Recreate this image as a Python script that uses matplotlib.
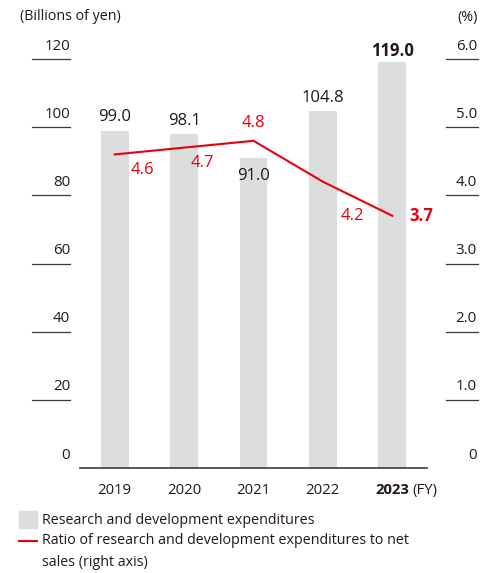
import matplotlib

matplotlib.use("Agg")
import matplotlib.pyplot as plt
import matplotlib.transforms as mtransforms

years = ["2019", "2020", "2021", "2022", "2023"]
rd_spend = [99.0, 98.1, 91.0, 104.8, 119.0]  # billions of yen
rd_ratio = [4.6, 4.7, 4.8, 4.2, 3.7]  # % of net sales
left_ticks = [0, 20, 40, 60, 80, 100, 120]
right_ticks = [0, 1.0, 2.0, 3.0, 4.0, 5.0, 6.0]

GRAY = "#dcdddd"
RED = "#e60012"
TEXT = "#231815"
RULE = "#3e3a39"

plt.rcParams["font.family"] = ["Open Sans", "DejaVu Sans"]

fig = plt.figure(figsize=(4.83, 5.73), dpi=100)
ax = fig.add_axes([80 / 483, 1 - 468 / 573, 347 / 483, 409 / 573])
ax.set_xlim(-0.5, 4.5)
ax.set_ylim(0, 120)
ax2 = ax.twinx()
ax2.set_ylim(0, 6.0)

x = list(range(len(years)))
ax.bar(x, rd_spend, width=0.40, color=GRAY, zorder=1)
ax2.plot(x, rd_ratio, color=RED, lw=1.5, zorder=3)

for a in (ax, ax2):
    for s in a.spines.values():
        s.set_visible(False)
    a.set_xticks([])
    a.set_yticks([])
ax.spines["bottom"].set_visible(True)
ax.spines["bottom"].set_color(RULE)
ax.spines["bottom"].set_linewidth(1.2)

# tick labels sit on short rules outside the plot area
left_tr = mtransforms.blended_transform_factory(fig.transFigure, ax.transData)
right_tr = mtransforms.blended_transform_factory(fig.transFigure, ax2.transData)
for v in left_ticks:
    fig.text(70 / 483, v + 3.8, f"{v}", transform=left_tr, ha="right",
             va="center", fontsize=10.8, color=TEXT)
    if v:
        fig.add_artist(plt.Line2D([32 / 483, 70 / 483], [v, v], transform=left_tr,
                                  color=RULE, lw=0.9))
for v in right_ticks:
    lab = "0" if v == 0 else f"{v:.1f}"
    fig.text(477 / 483, v + 0.19, lab, transform=right_tr, ha="right",
             va="center", fontsize=10.8, color=TEXT)
    if v:
        fig.add_artist(plt.Line2D([446 / 483, 478 / 483], [v, v], transform=right_tr,
                                  color=RULE, lw=0.9))

# bar value labels (2021 goes inside the bar, under the line)
bar_offsets = [10, 9, -13, 9, 8.5]
for i, (val, off) in enumerate(zip(rd_spend, bar_offsets)):
    bold = i == len(years) - 1
    ax.annotate(f"{val:.1f}", (i, val), xytext=(0, off), textcoords="offset points",
                ha="center", va="center", fontsize=12, color=TEXT,
                fontweight="bold" if bold else "normal")

# ratio labels
ratio_offsets = [(20, -11.5), (13, -11), (0, 13), (21.5, -25), (21, 0)]
for i, (val, off) in enumerate(zip(rd_ratio, ratio_offsets)):
    bold = i == len(years) - 1
    ax2.annotate(f"{val:.1f}", (i, val), xytext=off, textcoords="offset points",
                 ha="center", va="center", fontsize=12, color=RED,
                 fontweight="bold" if bold else "normal")

# category labels
for i, y in enumerate(years):
    last = i == len(years) - 1
    ax.text(i, -6.5, y, ha="center", va="center", fontsize=10.7, color=TEXT,
            fontweight="bold" if last else "normal")
ax.text(4 + 0.29, -6.5, "(FY)", ha="left", va="center", fontsize=10.7, color=TEXT)

fig.text(20 / 483, 1 - 17 / 573, "(Billions of yen)", ha="left", va="center",
         fontsize=10.3, color=TEXT)
fig.text(478 / 483, 1 - 17 / 573, "(%)", ha="right", va="center",
         fontsize=10.3, color=TEXT)

# legend
fig.patches.append(plt.Rectangle((19 / 483, 1 - 528 / 573), 18 / 483, 17 / 573,
                                 transform=fig.transFigure, color=GRAY))
fig.text(42 / 483, 1 - 520 / 573, "Research and development expenditures",
         ha="left", va="center", fontsize=10.3, color=TEXT)
fig.add_artist(plt.Line2D([19 / 483, 37 / 483], [1 - 541 / 573, 1 - 541 / 573],
                          color=RED, lw=1.5))
fig.text(42 / 483, 1 - 541 / 573,
         "Ratio of research and development expenditures to net",
         ha="left", va="center", fontsize=10.3, color=TEXT)
fig.text(42 / 483, 1 - 563 / 573, "sales (right axis)",
         ha="left", va="center", fontsize=10.3, color=TEXT)

fig.savefig("out.png", dpi=100, facecolor="white")
